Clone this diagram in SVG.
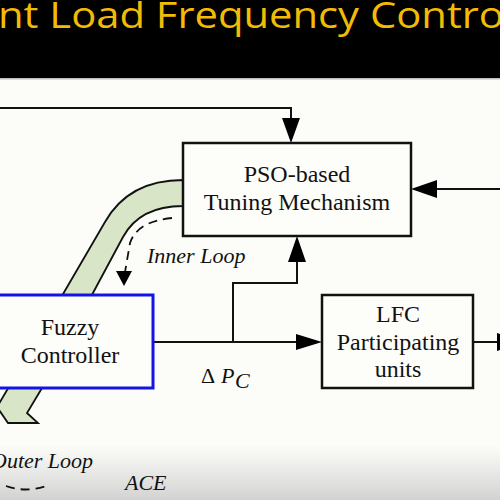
<svg xmlns="http://www.w3.org/2000/svg" width="500" height="500" viewBox="0 0 500 500">
  <defs>
    <linearGradient id="shade" x1="0" y1="0" x2="0" y2="1">
      <stop offset="0" stop-color="#d6d6d6" stop-opacity="0"/>
      <stop offset="1" stop-color="#d2d2d2" stop-opacity="1"/>
    </linearGradient>
  </defs>
  <style>
    .lbl { font-family: "Liberation Serif", "Times New Roman", serif; font-size: 24px; fill: #111; text-anchor: middle; }
    .it { font-family: "Liberation Serif", "Times New Roman", serif; font-style: italic; font-size: 22px; fill: #111; }
    .box { fill: #fdfdf9; stroke: #111; stroke-width: 2.5; }
    .wire { fill: none; stroke: #111; stroke-width: 2; }
    .head { fill: #000; stroke: none; }
    .dash { fill: none; stroke: #111; stroke-width: 1.8; stroke-dasharray: 9 6; }
  </style>
  <rect x="0" y="0" width="500" height="500" fill="#fcfdf8"/>
  <rect x="0" y="445" width="500" height="55" fill="url(#shade)"/>
  <rect x="0" y="0" width="500" height="78" fill="#000"/>
  <rect x="0" y="78" width="500" height="1.5" fill="#bdbdbd"/>
  <text x="-2" y="28" font-family="'Open Sans', 'Liberation Sans', sans-serif" font-size="36" fill="#f2bb05" textLength="506" lengthAdjust="spacingAndGlyphs">nt Load Frequency Contro</text>

  <g id="band">
    <path d="M183,180 C150,180 122,192 105,222 L10,385 L-3,407 L8,423 L38,423 L27,413 L42,388 L123,237 C135,215 155,206 183,206 Z" fill="#d8e5c6" stroke="#111" stroke-width="1.8" stroke-linejoin="miter"/>
  </g>

  <g id="connectors">
    <path class="wire" d="M0,108 H291 V120"/>
    <polygon class="head" points="282,118 300,118 291,143"/>
    <path class="wire" d="M500,189 H436"/>
    <polygon class="head" points="437,180 437,198 411,189"/>
    <path class="wire" d="M153,342 H297"/>
    <polygon class="head" points="296,334 296,350 322,342"/>
    <path class="wire" d="M233,342 V283 H297 V260"/>
    <polygon class="head" points="288,262 306,262 297,236"/>
    <path class="wire" d="M473,342 H500"/>
    <polygon class="head" points="497,333 497,351 522,342"/>
    <path class="dash" d="M172,218 C150,220 135,228 130,243 L125,272"/>
    <polygon class="head" points="116,271 132,271 124,286"/>
    <path class="dash" d="M6,486 Q26,493 46,486"/>
  </g>

  <g id="pso">
    <rect class="box" x="183" y="143" width="228" height="93"/>
    <text class="lbl" x="297" y="182">PSO-based</text>
    <text class="lbl" x="297" y="210">Tuning Mechanism</text>
  </g>

  <g id="fuzzy">
    <rect x="-5" y="295" width="158" height="93" fill="#fdfdf9" stroke="#1414e6" stroke-width="3"/>
    <text class="lbl" x="70" y="335">Fuzzy</text>
    <text class="lbl" x="70" y="363">Controller</text>
  </g>

  <g id="lfc">
    <rect class="box" x="322" y="295" width="151" height="93" stroke-width="2"/>
    <text class="lbl" x="398" y="322">LFC</text>
    <text class="lbl" x="398" y="350">Participating</text>
    <text class="lbl" x="398" y="377">units</text>
  </g>

  <g id="labels">
    <text class="it" x="147" y="263">Inner Loop</text>
    <text class="it" x="-9" y="468">Outer Loop</text>
    <text class="it" x="125" y="490">ACE</text>
    <text x="201" y="383" font-family="'Liberation Serif', serif" font-size="22" fill="#111">Δ</text>
    <text class="it" x="221" y="383">P</text>
    <text class="it" x="235" y="388" font-size="13">C</text>
  </g>
</svg>
